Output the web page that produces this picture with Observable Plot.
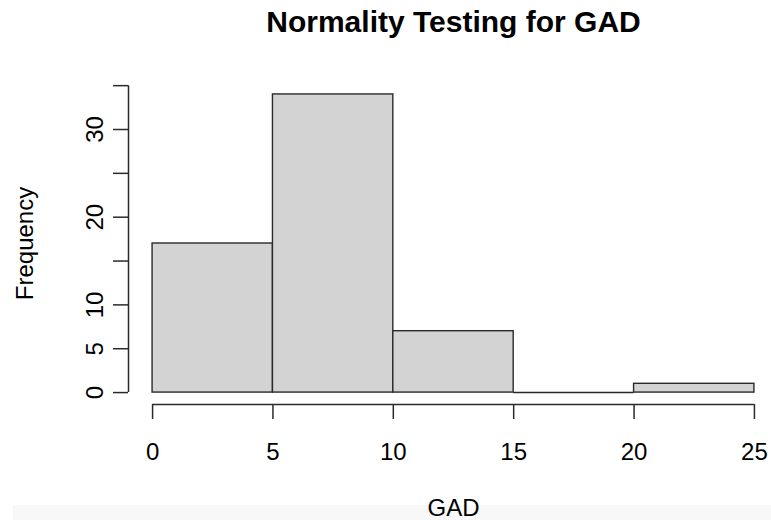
<!DOCTYPE html>
<html>
<head>
<meta charset="utf-8">
<script src="https://cdn.jsdelivr.net/npm/d3@7"></script>
<script src="https://cdn.jsdelivr.net/npm/@observablehq/plot@0.6"></script>
<style>
  html, body { margin: 0; padding: 0; background: #ffffff; }
  #wrap { position: relative; width: 771px; height: 520px; overflow: hidden; }
  #band { position: absolute; left: 13px; top: 505px; width: 758px; height: 15px; background: #f8f8f8; z-index: 0; }
  #chart { position: absolute; left: 0; top: 0; z-index: 1; }
</style>
</head>
<body>
<div id="wrap"><div id="band"></div><div id="chart"></div></div>
<script>
// ---- data ----
const binStart = [0, 5, 10, 15, 20];
const binEnd = [5, 10, 15, 20, 25];
const counts = [17, 34, 7, 0, 1];
const xTicks = [0, 5, 10, 15, 20, 25];
const yTicks = [0, 5, 10, 15, 20, 25, 30, 35];
const yTickLabels = ["0", "5", "10", "", "20", "", "30", ""];
const titleText = "Normality Testing for GAD";
const xLabel = "GAD";
const yLabel = "Frequency";

const bars = binStart.map((s, i) => ({x1: s, x2: binEnd[i], count: counts[i]}));

// R-style 4% extension of the data ranges
const xLo = binStart[0], xHi = binEnd[binEnd.length - 1];
const xPad = 0.04 * (xHi - xLo);
const xDomain = [xLo - xPad, xHi + xPad];
const yMax = d3.max(counts);
const yPad = 0.04 * yMax;
const yDomain = [-yPad, yMax + yPad];

const ink = "#2a2a2a";
const font = "'Liberation Sans', Arial, Helvetica, sans-serif";

const chart = Plot.plot({
  width: 771,
  height: 520,
  marginLeft: 128,
  marginRight: -7,
  marginTop: 82,
  marginBottom: 116,
  x: {domain: xDomain},
  y: {domain: yDomain},
  style: {fontFamily: font, fontSize: "24px", color: "#000", background: "transparent", overflow: "visible"},
  marks: [
    Plot.rectY(bars, {x1: "x1", x2: "x2", y: "count", fill: "#d3d3d3", stroke: ink, strokeWidth: 1.4}),
    Plot.ruleY(bars.filter(d => d.count === 0), {x1: "x1", x2: "x2", y: "count", stroke: ink, strokeWidth: 1.4}),
    // axis lines (offset like R's axes)
    Plot.ruleX([xDomain[0]], {x: d => d, y1: () => yTicks[0], y2: () => yTicks[yTicks.length - 1], stroke: ink, strokeWidth: 1.5}),
    Plot.ruleY([yDomain[0]], {y: d => d, x1: () => xTicks[0], x2: () => xTicks[xTicks.length - 1], stroke: ink, strokeWidth: 1.5}),
    // ticks
    Plot.axisX(xTicks, {tickSize: 15, tickFormat: () => "", label: null, stroke: ink, strokeWidth: 1.5}),
    Plot.axisY(yTicks, {tickSize: 15, tickFormat: () => "", label: null, stroke: ink, strokeWidth: 1.5}),
    // tick labels
    Plot.text(xTicks, {x: d => d, text: d => String(d), frameAnchor: "bottom", dy: 38, lineAnchor: "top", textAnchor: "middle", fontSize: 24, fill: "#000"}),
    Plot.text(yTicks, {y: d => d, text: (d, i) => yTickLabels[i], frameAnchor: "left", dx: -26, rotate: -90, textAnchor: "middle", lineAnchor: "bottom", fontSize: 24, fill: "#000"}),
    // titles
    Plot.text([titleText], {frameAnchor: "top", dy: -51, lineAnchor: "bottom", textAnchor: "middle", fontSize: 30, fontWeight: "bold", fill: "#000"}),
    Plot.text([xLabel], {frameAnchor: "bottom", dy: 111, lineAnchor: "bottom", textAnchor: "middle", fontSize: 24, fill: "#000"}),
    Plot.text([yLabel], {frameAnchor: "left", dx: -96, rotate: -90, lineAnchor: "bottom", textAnchor: "middle", fontSize: 24, fill: "#000"})
  ]
});
document.getElementById("chart").appendChild(chart);
</script>
</body>
</html>
